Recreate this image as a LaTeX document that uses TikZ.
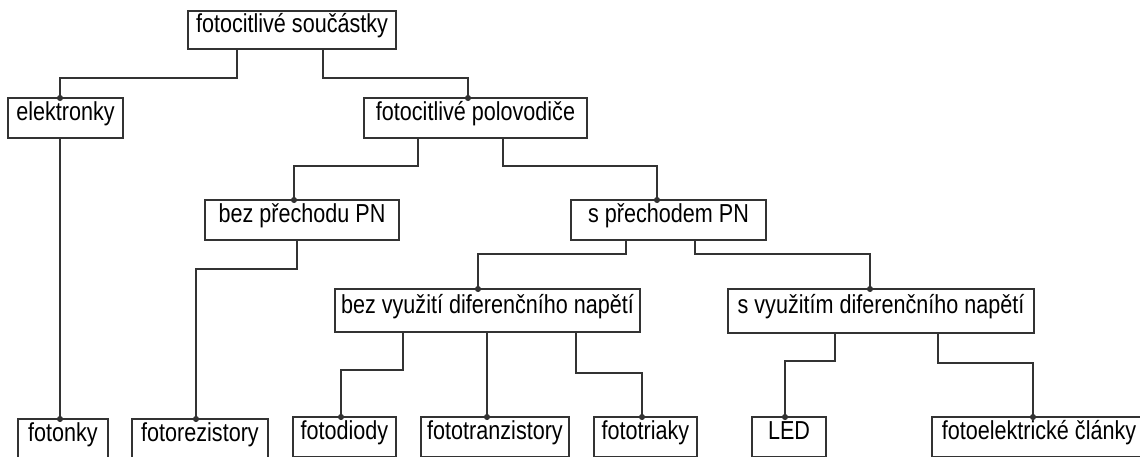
\documentclass[tikz,border=0pt]{standalone}
\usepackage{fontspec}
\setmainfont{Liberation Sans}[FakeStretch=0.83]
\usetikzlibrary{arrows.meta}
\begin{document}
\begin{tikzpicture}[x=1pt,y=-1pt,
  box/.style={draw=black!80, line width=1.3pt, inner sep=0pt, outer sep=0pt,
    font=\fontsize{26}{31}\selectfont, text height=0.76em, text depth=0.22em, text=black},
  conn/.style={draw=black!80, line width=1.3pt, -{Circle[length=6pt]}, shorten >=-3pt}]
\clip (0,0) rectangle (1140,456);
% upper levels
\node[box, minimum width=208pt, minimum height=38pt] (root) at (292,30) {fotocitlivé součástky};
\node[box, minimum width=115pt, minimum height=40pt] (elek) at (65.5,118) {elektronky};
\node[box, minimum width=223pt, minimum height=40pt] (polo) at (475.5,118) {fotocitlivé polovodiče};
\node[box, minimum width=194pt, minimum height=40pt] (bezPN) at (302,220) {bez přechodu PN};
\node[box, minimum width=195pt, minimum height=40pt] (sPN) at (668.5,220) {s přechodem PN};
\node[box, minimum width=305pt, minimum height=43pt] (bezV) at (487.5,310.5) {bez využití diferenčního napětí};
\node[box, minimum width=306pt, minimum height=44pt] (sV) at (881,311) {s využitím diferenčního napětí};
% bottom level
\node[box, minimum width=90pt, minimum height=40pt] (fotonky) at (63,439) {fotonky};
\node[box, minimum width=136pt, minimum height=40pt] (fotorez) at (200,439) {fotorezistory};
\node[box, minimum width=103pt, minimum height=40pt] (fotodiody) at (344.5,437) {fotodiody};
\node[box, minimum width=148pt, minimum height=40pt] (fototranz) at (495,437) {fototranzistory};
\node[box, minimum width=103pt, minimum height=40pt] (fototriaky) at (645.5,437) {fototriaky};
\node[box, minimum width=74pt, minimum height=40pt] (led) at (789,437) {LED};
\node[box, minimum width=214pt, minimum height=40pt] (fotoel) at (1039,437) {fotoelektrické články};
% connectors
\draw[conn] ([xshift=49pt]root.south west) -- ++(0,29) -| ([xshift=52pt]elek.north west);
\draw[conn] ([xshift=135pt]root.south west) -- ++(0,29) -| ([xshift=104pt]polo.north west);
\draw[conn] ([xshift=54pt]polo.south west) -- ++(0,28) -| ([xshift=89pt]bezPN.north west);
\draw[conn] ([xshift=139pt]polo.south west) -- ++(0,28) -| ([xshift=86pt]sPN.north west);
\draw[conn] ([xshift=52pt]elek.south west) -- ([xshift=42pt]fotonky.north west);
\draw[conn] ([xshift=92pt]bezPN.south west) -- ++(0,29) -| ([xshift=64pt]fotorez.north west);
\draw[conn] ([xshift=55pt]sPN.south west) -- ++(0,14) -| ([xshift=143pt]bezV.north west);
\draw[conn] ([xshift=124pt]sPN.south west) -- ++(0,14) -| ([xshift=142pt]sV.north west);
\draw[conn] ([xshift=68pt]bezV.south west) -- ++(0,38) -| ([xshift=48pt]fotodiody.north west);
\draw[conn] ([xshift=152pt]bezV.south west) -- ([xshift=66pt]fototranz.north west);
\draw[conn] ([xshift=241pt]bezV.south west) -- ++(0,41) -| ([xshift=48pt]fototriaky.north west);
\draw[conn] ([xshift=107pt]sV.south west) -- ++(0,28) -| ([xshift=33pt]led.north west);
\draw[conn] ([xshift=210pt]sV.south west) -- ++(0,30) -| ([xshift=101pt]fotoel.north west);
\end{tikzpicture}
\end{document}
